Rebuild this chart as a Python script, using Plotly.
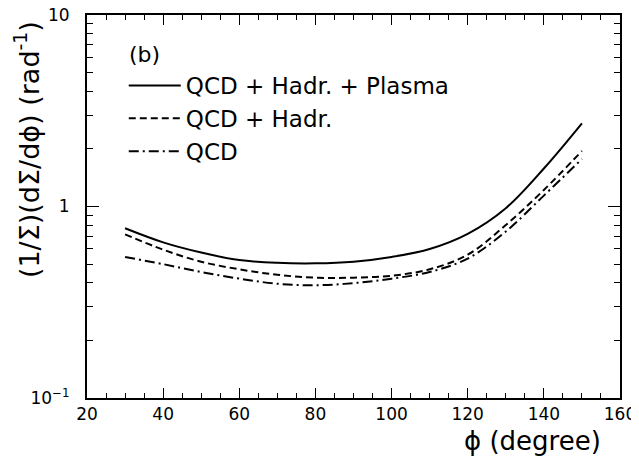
import plotly.graph_objects as go

phi = [30, 40, 50, 60, 70, 80, 90, 100, 110, 120, 130, 140, 150]
qcd_hadr_plasma = [0.77, 0.65, 0.575, 0.525, 0.508, 0.505, 0.515, 0.545, 0.60, 0.72, 0.98, 1.58, 2.72]
qcd_hadr = [0.715, 0.595, 0.515, 0.47, 0.44, 0.425, 0.425, 0.435, 0.47, 0.56, 0.80, 1.22, 1.95]
qcd = [0.545, 0.50, 0.455, 0.42, 0.395, 0.388, 0.398, 0.42, 0.455, 0.535, 0.74, 1.14, 1.77]

series_names = ["QCD + Hadr. + Plasma", "QCD + Hadr.", "QCD"]
series_values = [qcd_hadr_plasma, qcd_hadr, qcd]
series_dash = ["solid", "7px,4px", "10px,4px,2px,4px"]

y_tickvals = [0.1, 1, 10]
y_ticktext = ["10<sup>−1</sup>", "1", "10"]
y_minor = [0.2, 0.3, 0.4, 0.5, 0.6, 0.7, 0.8, 0.9, 2, 3, 4, 5, 6, 7, 8, 9]

FONT = "DejaVu Sans, Verdana, sans-serif"

fig = go.Figure()
for i, (name, vals, dash) in enumerate(zip(series_names, series_values, series_dash)):
    fig.add_trace(go.Scatter(
        x=phi, y=vals, mode="lines", name=name, legendgroup=f"g{i}",
        line=dict(color="black", width=2, dash=dash, shape="spline"),
    ))

# the page body adds an 8px offset, so margins are shifted by 8px
fig.update_layout(
    width=639, height=457,
    margin=dict(l=79, r=27, t=7, b=67),
    paper_bgcolor="white", plot_bgcolor="white",
    font=dict(family=FONT, size=17, color="black"),
    showlegend=True,
    legend=dict(
        x=0.069, y=0.872, xanchor="left", yanchor="top",
        bgcolor="rgba(0,0,0,0)", font=dict(size=23, family=FONT),
        tracegroupgap=0, itemwidth=52,
    ),
    xaxis=dict(
        range=[20, 160], dtick=20, tick0=20, automargin=False,
        ticklabeloverflow="allow",
        showline=True, linecolor="black", linewidth=2, mirror="allticks",
        ticks="inside", ticklen=10, tickwidth=1, tickcolor="black",
        showgrid=False, zeroline=False,
        minor=dict(dtick=5, ticks="inside", ticklen=5, tickcolor="black", showgrid=False),
        tickfont=dict(size=17),
    ),
    yaxis=dict(
        type="log", range=[-1, 1], automargin=False,
        ticklabeloverflow="allow",
        tickvals=y_tickvals, ticktext=y_ticktext, ticklabelstandoff=12,
        showline=True, linecolor="black", linewidth=2, mirror="allticks",
        ticks="inside", ticklen=12, tickwidth=1, tickcolor="black",
        showgrid=False, zeroline=False,
        minor=dict(tickvals=y_minor, ticks="inside", ticklen=6, tickcolor="black", showgrid=False),
        tickfont=dict(size=17),
    ),
    annotations=[
        dict(text="(b)", x=0.075, y=0.896, xref="paper", yref="paper",
             xanchor="left", yanchor="middle", showarrow=False, font=dict(size=22)),
        dict(text="ϕ (degree)", x=0.968, y=-0.112, xref="paper", yref="paper",
             xanchor="right", yanchor="middle", showarrow=False, font=dict(size=26)),
        dict(text="(1/Σ)(dΣ/dϕ) (rad<sup>-1</sup>)", x=-0.113, y=0.99,
             xref="paper", yref="paper", xanchor="center", yanchor="top",
             textangle=-90, showarrow=False, font=dict(size=27)),
    ],
)

fig.write_html("out.html")
